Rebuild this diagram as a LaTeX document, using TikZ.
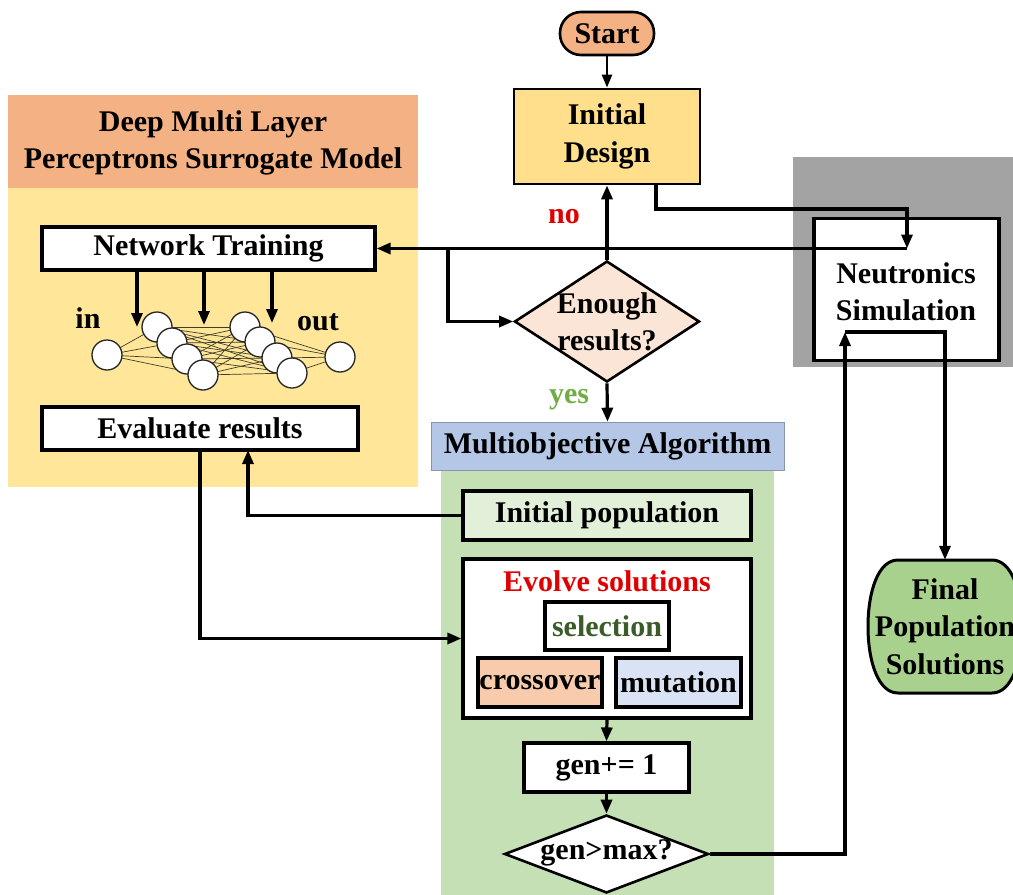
\documentclass[tikz,border=0pt]{standalone}
\usepackage{fontspec}
\setmainfont{Liberation Serif}
\usetikzlibrary{arrows.meta,shapes.geometric}
\definecolor{salmon}{HTML}{F4B183}
\definecolor{panelY}{HTML}{FFE699}
\definecolor{initY}{HTML}{FFDE8C}
\definecolor{peach}{HTML}{FBE5D6}
\definecolor{blueH}{HTML}{B4C7E7}
\definecolor{greenB}{HTML}{C5E0B4}
\definecolor{greenL}{HTML}{E2F0D9}
\definecolor{crossC}{HTML}{F8CBAD}
\definecolor{mutC}{HTML}{DAE3F3}
\definecolor{grayB}{HTML}{A3A3A3}
\definecolor{finalG}{HTML}{A9D18E}
\definecolor{noRed}{HTML}{E00000}
\definecolor{yesG}{HTML}{70AD47}
\definecolor{selG}{HTML}{3B5B29}
\definecolor{nnline}{HTML}{3E3E28}
\begin{document}
\begin{tikzpicture}[x=1bp,y=-1bp,
  txt/.style={font=\fontsize{30bp}{37.5bp}\selectfont\bfseries, align=center, inner sep=0pt},
  bx/.style={txt, draw=black, line width=3.2bp, minimum width=#1},
  arr/.style={line width=3.2bp, -{Triangle[length=14bp,width=11bp]}},
  thinarr/.style={line width=2.6bp, -{Triangle[length=13bp,width=10bp]}},
  neuron/.style={circle, draw=black!85, line width=1.3bp, fill=white, minimum size=30bp, inner sep=0pt},
  nnl/.style={draw=nnline, line width=0.7bp}
]
\useasboundingbox (0,0) rectangle (1013,895);

% ---------- background panels ----------
\fill[salmon] (8,95) rectangle (418,188);
\fill[panelY] (8,188) rectangle (418,487);
\fill[grayB] (793,157) rectangle (1013,367);
\fill[greenB] (441,470) rectangle (774,895);

\node[txt] (title) at (213,143) {Deep Multi Layer\\Perceptrons Surrogate Model};
\node[txt, fill=blueH, draw=blueH!75!black, line width=0.6bp, minimum width=353bp, minimum height=48bp] (mo) at (607.5,446) {Multiobjective Algorithm};

% ---------- main flow nodes ----------
\node[txt, draw=black, line width=2.6bp, fill=salmon, rounded corners=21bp, minimum width=94bp, minimum height=43bp] (start) at (607,33.5) {Start};
\node[bx=186bp, fill=initY, line width=2.8bp, minimum height=95bp] (init) at (607,136.5) {Initial\\Design};
\node[diamond, draw=black, line width=2.6bp, fill=peach, minimum width=185bp, minimum height=121bp, inner sep=0pt] (enough) at (607,321.5) {};
\node[txt] (enoughT) at (607,322) {Enough\\results?};
\node[txt, text=noRed] (no) at (564,217) {no};
\node[txt, text=yesG] (yes) at (569,400) {yes};

\node[bx=333bp, fill=white, minimum height=43bp] (nt) at (208.5,248.5) {Network Training};
\node[bx=316bp, fill=white, minimum height=43bp] (er) at (200,428.5) {Evaluate results};
\node[bx=185bp, fill=white, minimum height=142bp] (neut) at (906.5,289.5) {};
\node[txt] (neutT) at (906,292) {Neutronics\\Simulation};

\node[bx=288bp, fill=greenL, minimum height=49bp] (ip) at (607,515.5) {Initial population};
\node[bx=288bp, fill=white, minimum height=159bp] (evolve) at (607,638.5) {};
\node[txt, text=noRed] (evT) at (607,581) {Evolve solutions};
\node[bx=124bp, fill=white, minimum height=48bp, text=selG] (sel) at (607,626) {selection};
\node[bx=124bp, fill=crossC, minimum height=49bp] (cross) at (540,682.5) {crossover};
\node[bx=125bp, fill=mutC, minimum height=49bp] (mut) at (678.5,682.5) {mutation};
\node[bx=165bp, fill=white, minimum height=49bp] (gen) at (606.5,767.5) {gen+= 1};
\node[diamond, draw=black, line width=2.6bp, fill=white, minimum width=204bp, minimum height=78bp, inner sep=0pt] (gm) at (606.5,854) {};
\node[txt] (gmT) at (606.5,853) {gen>max?};

% final population shape
\draw[line width=3bp, fill=finalG]
  (898,560) -- (992,560) .. controls (1012,560) and (1022,592) .. (1022,626.5)
  .. controls (1022,661) and (1012,693) .. (992,693) -- (898,693)
  .. controls (878,693) and (868,661) .. (868,626.5)
  .. controls (868,592) and (878,560) .. (898,560) -- cycle;
\node[txt, minimum height=133bp] (final) at (945,626.5) {Final\\Population\\Solutions};

% ---------- neural network ----------
\node[txt] (in) at (88,318) {in};
\node[txt] (out) at (318,322) {out};
\coordinate (c0) at (107,355);
\coordinate (a1) at (157,327); \coordinate (a2) at (172,343);
\coordinate (a3) at (187,359); \coordinate (a4) at (203,375);
\coordinate (b1) at (245,327); \coordinate (b2) at (260,342);
\coordinate (b3) at (277,358); \coordinate (b4) at (292,373);
\coordinate (c9) at (340,357);
\foreach \a in {a1,a2,a3,a4}{
  \draw[nnl] (c0) -- (\a);
  \foreach \b in {b1,b2,b3,b4}{ \draw[nnl] (\a) -- (\b); }
}
\foreach \b in {b1,b2,b3,b4}{ \draw[nnl] (\b) -- (c9); }
\node[neuron] (n0) at (c0) {};
\foreach \p in {a1,a2,a3,a4,b1,b2,b3,b4}{ \node[neuron] (n\p) at (\p) {}; }
\node[neuron] (n9) at (c9) {};

\coordinate (t1) at (137,327);
\coordinate (t2) at (204,325);
\coordinate (t3) at (272,323);
\draw[arr] (nt.south -| t1) -- (t1);
\draw[arr] (nt.south -| t2) -- (t2);
\draw[arr] (nt.south -| t3) -- (t3);

% ---------- connectors ----------
\coordinate (jtop) at (907,209);
\coordinate (j1) at (907,248.5);
\coordinate (j2) at (448,248.5);
\coordinate (j3) at (845,332);
\coordinate (idout) at (656,184);
\coordinate (ret) at (248,450);

\draw[thinarr] (start.south) -- (init.north);
\draw[arr] (enough.north) -- (init.south);
\draw[arr] (enough.south) -- (mo.north);
\draw[arr] (idout) |- (jtop) -- (j1);
\draw[arr] (j1) -- (nt.east);
\draw[arr] (j2) |- (enough.west);
\draw[arr] (er.south) |- (evolve.west);
\draw[arr] (ip.west) -| (ret);
\draw[arr] (evolve.south) -- (gen.north);
\draw[arr] (gen.south) -- (gm.north);
\draw[arr] (gm.east) -| (j3);
\draw[arr] (j3) -| (final.north);
\end{tikzpicture}
\end{document}
